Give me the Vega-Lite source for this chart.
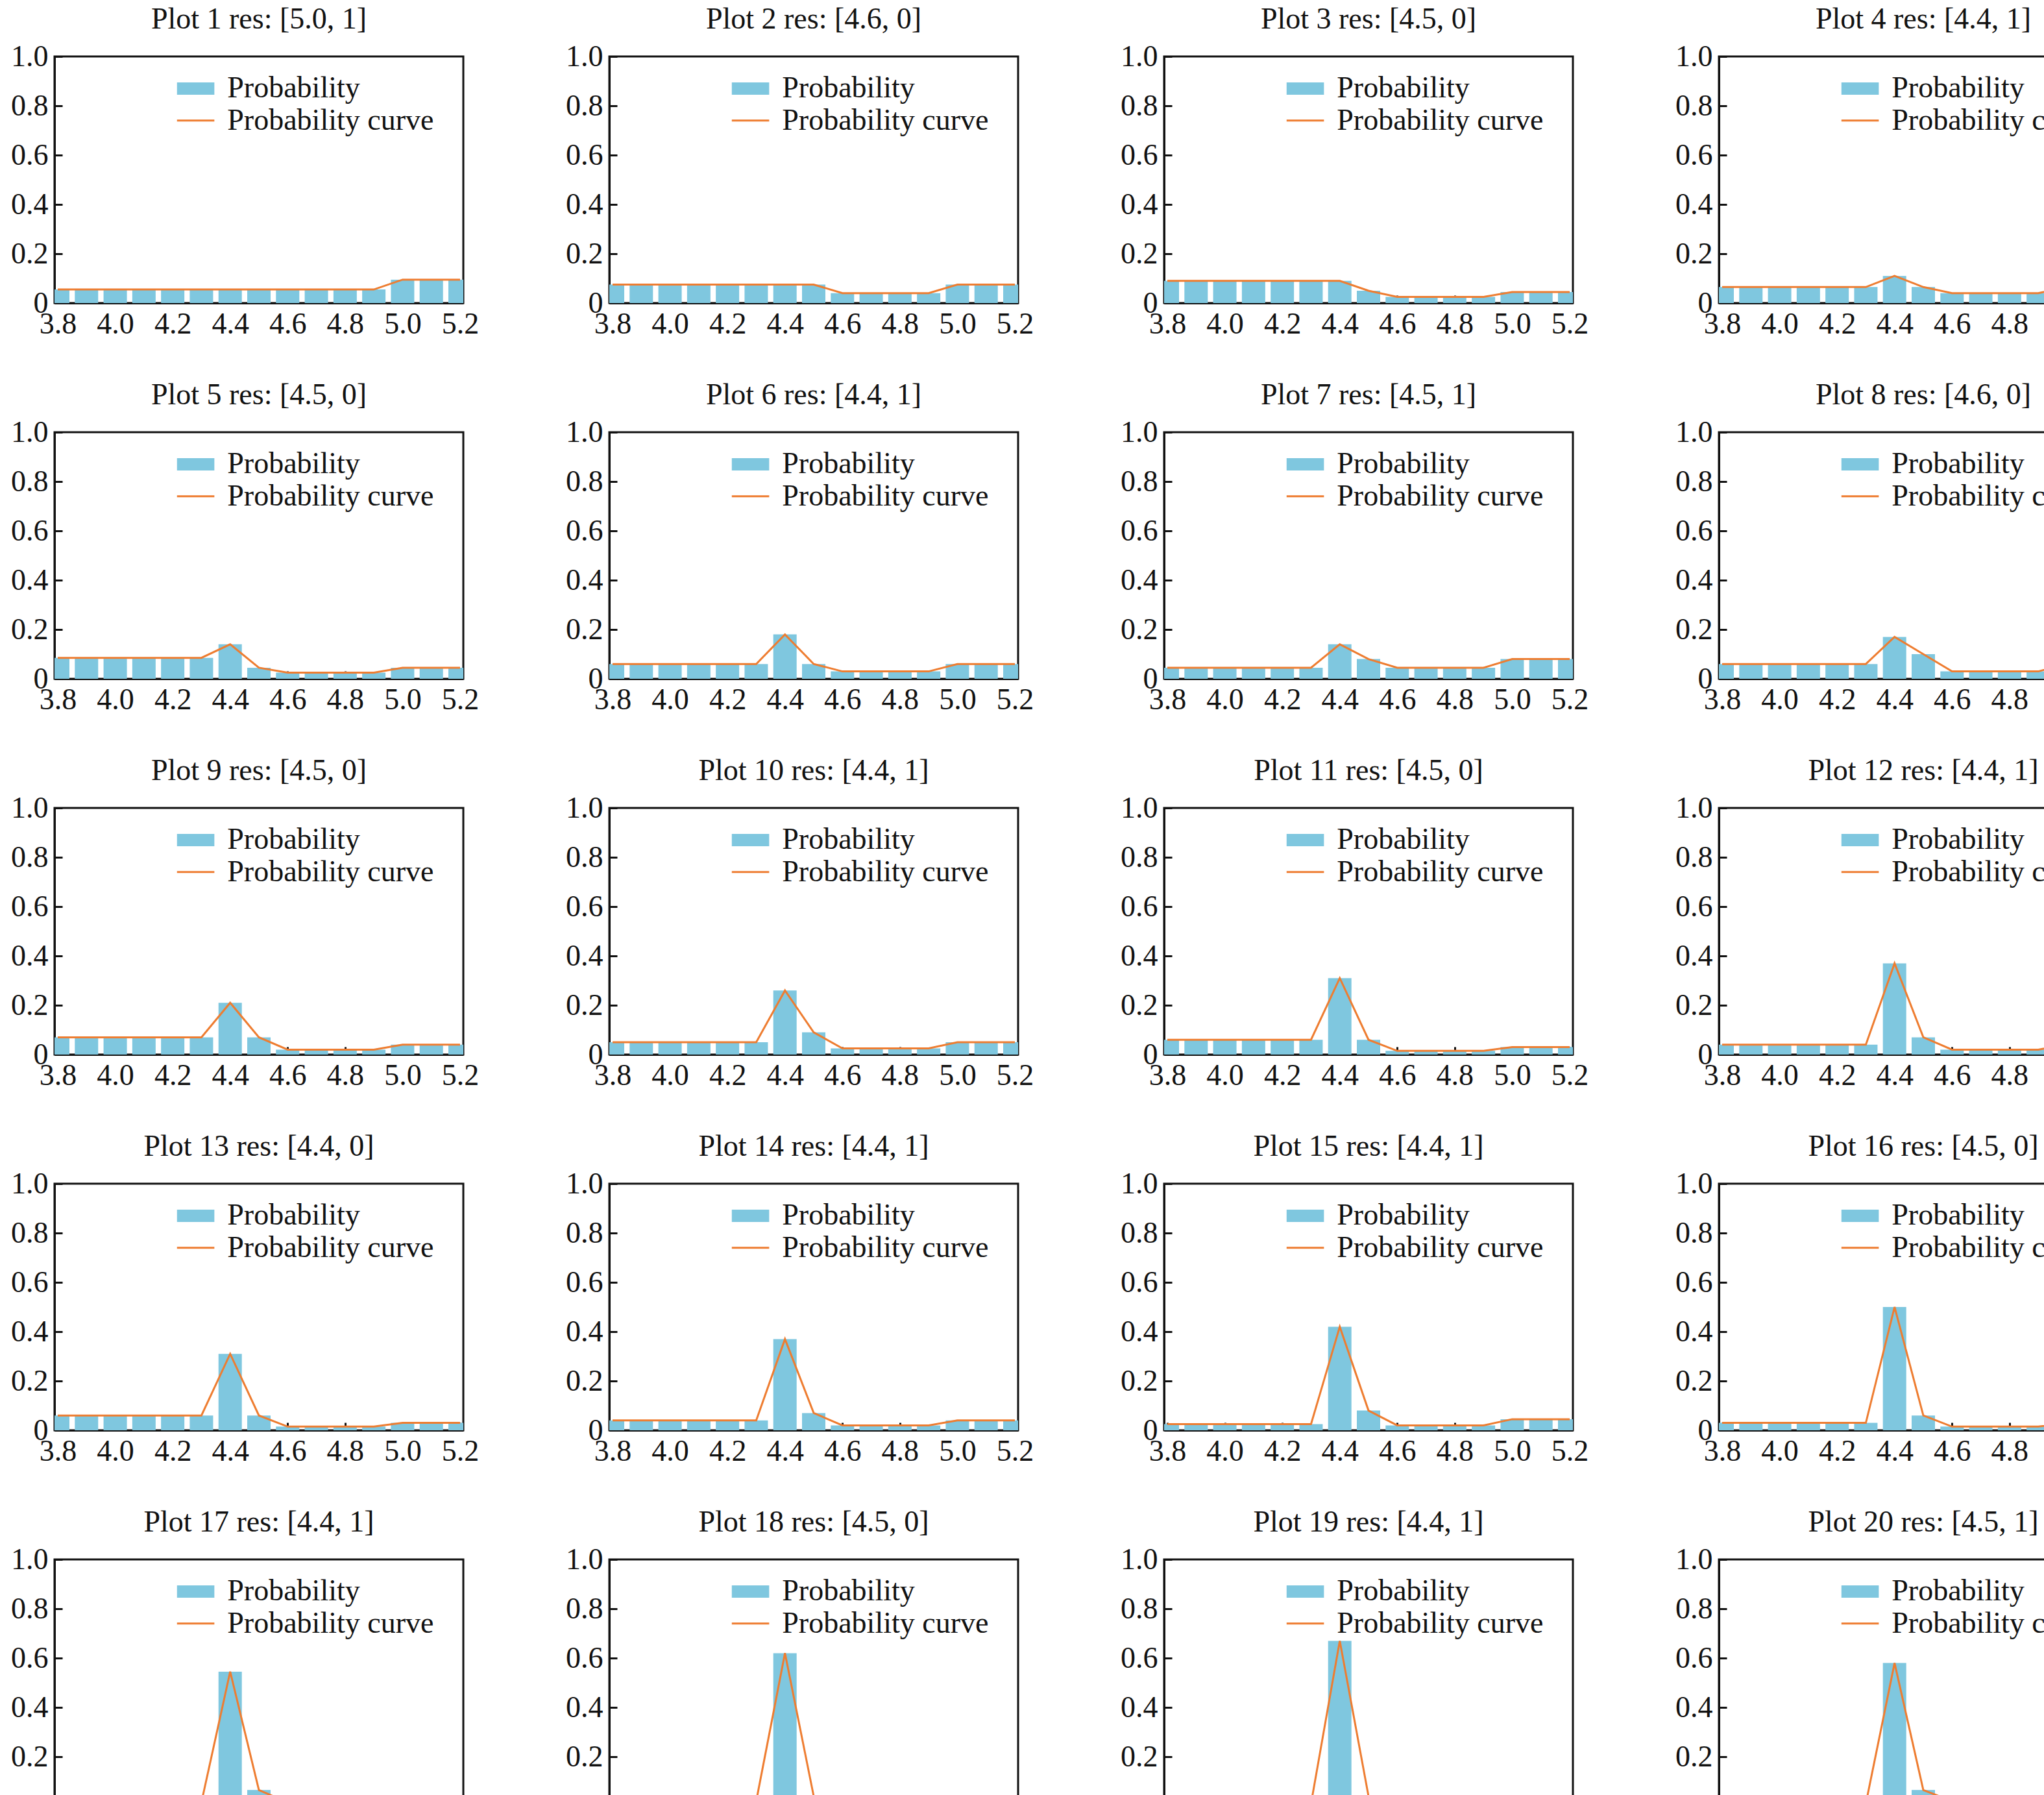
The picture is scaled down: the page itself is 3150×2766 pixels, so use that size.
{
"$schema":"https://vega.github.io/schema/vega-lite/v6.json",
"background":"white",
"padding":{"left":15,"top":5,"right":20,"bottom":5},
"datasets":{
"titles":[{"i":1,"t":"Plot 1 res: [5.0, 1]"},{"i":2,"t":"Plot 2 res: [4.6, 0]"},{"i":3,"t":"Plot 3 res: [4.5, 0]"},{"i":4,"t":"Plot 4 res: [4.4, 1]"},{"i":5,"t":"Plot 5 res: [4.5, 0]"},{"i":6,"t":"Plot 6 res: [4.4, 1]"},{"i":7,"t":"Plot 7 res: [4.5, 1]"},{"i":8,"t":"Plot 8 res: [4.6, 0]"},{"i":9,"t":"Plot 9 res: [4.5, 0]"},{"i":10,"t":"Plot 10 res: [4.4, 1]"},{"i":11,"t":"Plot 11 res: [4.5, 0]"},{"i":12,"t":"Plot 12 res: [4.4, 1]"},{"i":13,"t":"Plot 13 res: [4.4, 0]"},{"i":14,"t":"Plot 14 res: [4.4, 1]"},{"i":15,"t":"Plot 15 res: [4.4, 1]"},{"i":16,"t":"Plot 16 res: [4.5, 0]"},{"i":17,"t":"Plot 17 res: [4.4, 1]"},{"i":18,"t":"Plot 18 res: [4.5, 0]"},{"i":19,"t":"Plot 19 res: [4.4, 1]"},{"i":20,"t":"Plot 20 res: [4.5, 1]"}],
"rows":[
{"i":1,"x":3.8,"y":0.055},{"i":1,"x":3.9,"y":0.055},{"i":1,"x":4.0,"y":0.055},{"i":1,"x":4.1,"y":0.055},{"i":1,"x":4.2,"y":0.055},{"i":1,"x":4.3,"y":0.055},{"i":1,"x":4.4,"y":0.055},{"i":1,"x":4.5,"y":0.055},{"i":1,"x":4.6,"y":0.055},{"i":1,"x":4.7,"y":0.055},{"i":1,"x":4.8,"y":0.055},{"i":1,"x":4.9,"y":0.055},{"i":1,"x":5.0,"y":0.095},{"i":1,"x":5.1,"y":0.095},{"i":1,"x":5.2,"y":0.095},
{"i":2,"x":3.8,"y":0.075},{"i":2,"x":3.9,"y":0.075},{"i":2,"x":4.0,"y":0.075},{"i":2,"x":4.1,"y":0.075},{"i":2,"x":4.2,"y":0.075},{"i":2,"x":4.3,"y":0.075},{"i":2,"x":4.4,"y":0.075},{"i":2,"x":4.5,"y":0.075},{"i":2,"x":4.6,"y":0.04},{"i":2,"x":4.7,"y":0.04},{"i":2,"x":4.8,"y":0.04},{"i":2,"x":4.9,"y":0.04},{"i":2,"x":5.0,"y":0.075},{"i":2,"x":5.1,"y":0.075},{"i":2,"x":5.2,"y":0.075},
{"i":3,"x":3.8,"y":0.09},{"i":3,"x":3.9,"y":0.09},{"i":3,"x":4.0,"y":0.09},{"i":3,"x":4.1,"y":0.09},{"i":3,"x":4.2,"y":0.09},{"i":3,"x":4.3,"y":0.09},{"i":3,"x":4.4,"y":0.09},{"i":3,"x":4.5,"y":0.05},{"i":3,"x":4.6,"y":0.025},{"i":3,"x":4.7,"y":0.025},{"i":3,"x":4.8,"y":0.025},{"i":3,"x":4.9,"y":0.025},{"i":3,"x":5.0,"y":0.045},{"i":3,"x":5.1,"y":0.045},{"i":3,"x":5.2,"y":0.045},
{"i":4,"x":3.8,"y":0.065},{"i":4,"x":3.9,"y":0.065},{"i":4,"x":4.0,"y":0.065},{"i":4,"x":4.1,"y":0.065},{"i":4,"x":4.2,"y":0.065},{"i":4,"x":4.3,"y":0.065},{"i":4,"x":4.4,"y":0.11},{"i":4,"x":4.5,"y":0.065},{"i":4,"x":4.6,"y":0.04},{"i":4,"x":4.7,"y":0.04},{"i":4,"x":4.8,"y":0.04},{"i":4,"x":4.9,"y":0.04},{"i":4,"x":5.0,"y":0.065},{"i":4,"x":5.1,"y":0.065},{"i":4,"x":5.2,"y":0.065},
{"i":5,"x":3.8,"y":0.085},{"i":5,"x":3.9,"y":0.085},{"i":5,"x":4.0,"y":0.085},{"i":5,"x":4.1,"y":0.085},{"i":5,"x":4.2,"y":0.085},{"i":5,"x":4.3,"y":0.085},{"i":5,"x":4.4,"y":0.14},{"i":5,"x":4.5,"y":0.045},{"i":5,"x":4.6,"y":0.025},{"i":5,"x":4.7,"y":0.025},{"i":5,"x":4.8,"y":0.025},{"i":5,"x":4.9,"y":0.025},{"i":5,"x":5.0,"y":0.045},{"i":5,"x":5.1,"y":0.045},{"i":5,"x":5.2,"y":0.045},
{"i":6,"x":3.8,"y":0.06},{"i":6,"x":3.9,"y":0.06},{"i":6,"x":4.0,"y":0.06},{"i":6,"x":4.1,"y":0.06},{"i":6,"x":4.2,"y":0.06},{"i":6,"x":4.3,"y":0.06},{"i":6,"x":4.4,"y":0.18},{"i":6,"x":4.5,"y":0.06},{"i":6,"x":4.6,"y":0.03},{"i":6,"x":4.7,"y":0.03},{"i":6,"x":4.8,"y":0.03},{"i":6,"x":4.9,"y":0.03},{"i":6,"x":5.0,"y":0.06},{"i":6,"x":5.1,"y":0.06},{"i":6,"x":5.2,"y":0.06},
{"i":7,"x":3.8,"y":0.045},{"i":7,"x":3.9,"y":0.045},{"i":7,"x":4.0,"y":0.045},{"i":7,"x":4.1,"y":0.045},{"i":7,"x":4.2,"y":0.045},{"i":7,"x":4.3,"y":0.045},{"i":7,"x":4.4,"y":0.14},{"i":7,"x":4.5,"y":0.08},{"i":7,"x":4.6,"y":0.045},{"i":7,"x":4.7,"y":0.045},{"i":7,"x":4.8,"y":0.045},{"i":7,"x":4.9,"y":0.045},{"i":7,"x":5.0,"y":0.08},{"i":7,"x":5.1,"y":0.08},{"i":7,"x":5.2,"y":0.08},
{"i":8,"x":3.8,"y":0.06},{"i":8,"x":3.9,"y":0.06},{"i":8,"x":4.0,"y":0.06},{"i":8,"x":4.1,"y":0.06},{"i":8,"x":4.2,"y":0.06},{"i":8,"x":4.3,"y":0.06},{"i":8,"x":4.4,"y":0.17},{"i":8,"x":4.5,"y":0.10},{"i":8,"x":4.6,"y":0.03},{"i":8,"x":4.7,"y":0.03},{"i":8,"x":4.8,"y":0.03},{"i":8,"x":4.9,"y":0.03},{"i":8,"x":5.0,"y":0.06},{"i":8,"x":5.1,"y":0.06},{"i":8,"x":5.2,"y":0.06},
{"i":9,"x":3.8,"y":0.07},{"i":9,"x":3.9,"y":0.07},{"i":9,"x":4.0,"y":0.07},{"i":9,"x":4.1,"y":0.07},{"i":9,"x":4.2,"y":0.07},{"i":9,"x":4.3,"y":0.07},{"i":9,"x":4.4,"y":0.21},{"i":9,"x":4.5,"y":0.07},{"i":9,"x":4.6,"y":0.02},{"i":9,"x":4.7,"y":0.02},{"i":9,"x":4.8,"y":0.02},{"i":9,"x":4.9,"y":0.02},{"i":9,"x":5.0,"y":0.04},{"i":9,"x":5.1,"y":0.04},{"i":9,"x":5.2,"y":0.04},
{"i":10,"x":3.8,"y":0.05},{"i":10,"x":3.9,"y":0.05},{"i":10,"x":4.0,"y":0.05},{"i":10,"x":4.1,"y":0.05},{"i":10,"x":4.2,"y":0.05},{"i":10,"x":4.3,"y":0.05},{"i":10,"x":4.4,"y":0.26},{"i":10,"x":4.5,"y":0.09},{"i":10,"x":4.6,"y":0.025},{"i":10,"x":4.7,"y":0.025},{"i":10,"x":4.8,"y":0.025},{"i":10,"x":4.9,"y":0.025},{"i":10,"x":5.0,"y":0.05},{"i":10,"x":5.1,"y":0.05},{"i":10,"x":5.2,"y":0.05},
{"i":11,"x":3.8,"y":0.06},{"i":11,"x":3.9,"y":0.06},{"i":11,"x":4.0,"y":0.06},{"i":11,"x":4.1,"y":0.06},{"i":11,"x":4.2,"y":0.06},{"i":11,"x":4.3,"y":0.06},{"i":11,"x":4.4,"y":0.31},{"i":11,"x":4.5,"y":0.06},{"i":11,"x":4.6,"y":0.015},{"i":11,"x":4.7,"y":0.015},{"i":11,"x":4.8,"y":0.015},{"i":11,"x":4.9,"y":0.015},{"i":11,"x":5.0,"y":0.03},{"i":11,"x":5.1,"y":0.03},{"i":11,"x":5.2,"y":0.03},
{"i":12,"x":3.8,"y":0.04},{"i":12,"x":3.9,"y":0.04},{"i":12,"x":4.0,"y":0.04},{"i":12,"x":4.1,"y":0.04},{"i":12,"x":4.2,"y":0.04},{"i":12,"x":4.3,"y":0.04},{"i":12,"x":4.4,"y":0.37},{"i":12,"x":4.5,"y":0.07},{"i":12,"x":4.6,"y":0.02},{"i":12,"x":4.7,"y":0.02},{"i":12,"x":4.8,"y":0.02},{"i":12,"x":4.9,"y":0.02},{"i":12,"x":5.0,"y":0.04},{"i":12,"x":5.1,"y":0.04},{"i":12,"x":5.2,"y":0.04},
{"i":13,"x":3.8,"y":0.06},{"i":13,"x":3.9,"y":0.06},{"i":13,"x":4.0,"y":0.06},{"i":13,"x":4.1,"y":0.06},{"i":13,"x":4.2,"y":0.06},{"i":13,"x":4.3,"y":0.06},{"i":13,"x":4.4,"y":0.31},{"i":13,"x":4.5,"y":0.06},{"i":13,"x":4.6,"y":0.015},{"i":13,"x":4.7,"y":0.015},{"i":13,"x":4.8,"y":0.015},{"i":13,"x":4.9,"y":0.015},{"i":13,"x":5.0,"y":0.03},{"i":13,"x":5.1,"y":0.03},{"i":13,"x":5.2,"y":0.03},
{"i":14,"x":3.8,"y":0.04},{"i":14,"x":3.9,"y":0.04},{"i":14,"x":4.0,"y":0.04},{"i":14,"x":4.1,"y":0.04},{"i":14,"x":4.2,"y":0.04},{"i":14,"x":4.3,"y":0.04},{"i":14,"x":4.4,"y":0.37},{"i":14,"x":4.5,"y":0.07},{"i":14,"x":4.6,"y":0.02},{"i":14,"x":4.7,"y":0.02},{"i":14,"x":4.8,"y":0.02},{"i":14,"x":4.9,"y":0.02},{"i":14,"x":5.0,"y":0.04},{"i":14,"x":5.1,"y":0.04},{"i":14,"x":5.2,"y":0.04},
{"i":15,"x":3.8,"y":0.025},{"i":15,"x":3.9,"y":0.025},{"i":15,"x":4.0,"y":0.025},{"i":15,"x":4.1,"y":0.025},{"i":15,"x":4.2,"y":0.025},{"i":15,"x":4.3,"y":0.025},{"i":15,"x":4.4,"y":0.42},{"i":15,"x":4.5,"y":0.08},{"i":15,"x":4.6,"y":0.02},{"i":15,"x":4.7,"y":0.02},{"i":15,"x":4.8,"y":0.02},{"i":15,"x":4.9,"y":0.02},{"i":15,"x":5.0,"y":0.045},{"i":15,"x":5.1,"y":0.045},{"i":15,"x":5.2,"y":0.045},
{"i":16,"x":3.8,"y":0.03},{"i":16,"x":3.9,"y":0.03},{"i":16,"x":4.0,"y":0.03},{"i":16,"x":4.1,"y":0.03},{"i":16,"x":4.2,"y":0.03},{"i":16,"x":4.3,"y":0.03},{"i":16,"x":4.4,"y":0.50},{"i":16,"x":4.5,"y":0.06},{"i":16,"x":4.6,"y":0.015},{"i":16,"x":4.7,"y":0.015},{"i":16,"x":4.8,"y":0.015},{"i":16,"x":4.9,"y":0.015},{"i":16,"x":5.0,"y":0.03},{"i":16,"x":5.1,"y":0.03},{"i":16,"x":5.2,"y":0.03},
{"i":17,"x":3.8,"y":0.015},{"i":17,"x":3.9,"y":0.015},{"i":17,"x":4.0,"y":0.015},{"i":17,"x":4.1,"y":0.015},{"i":17,"x":4.2,"y":0.015},{"i":17,"x":4.3,"y":0.015},{"i":17,"x":4.4,"y":0.545},{"i":17,"x":4.5,"y":0.065},{"i":17,"x":4.6,"y":0.015},{"i":17,"x":4.7,"y":0.015},{"i":17,"x":4.8,"y":0.015},{"i":17,"x":4.9,"y":0.015},{"i":17,"x":5.0,"y":0.035},{"i":17,"x":5.1,"y":0.035},{"i":17,"x":5.2,"y":0.035},
{"i":18,"x":3.8,"y":0.02},{"i":18,"x":3.9,"y":0.02},{"i":18,"x":4.0,"y":0.02},{"i":18,"x":4.1,"y":0.02},{"i":18,"x":4.2,"y":0.02},{"i":18,"x":4.3,"y":0.02},{"i":18,"x":4.4,"y":0.62},{"i":18,"x":4.5,"y":0.04},{"i":18,"x":4.6,"y":0.01},{"i":18,"x":4.7,"y":0.01},{"i":18,"x":4.8,"y":0.01},{"i":18,"x":4.9,"y":0.01},{"i":18,"x":5.0,"y":0.02},{"i":18,"x":5.1,"y":0.02},{"i":18,"x":5.2,"y":0.02},
{"i":19,"x":3.8,"y":0.01},{"i":19,"x":3.9,"y":0.01},{"i":19,"x":4.0,"y":0.01},{"i":19,"x":4.1,"y":0.01},{"i":19,"x":4.2,"y":0.01},{"i":19,"x":4.3,"y":0.01},{"i":19,"x":4.4,"y":0.67},{"i":19,"x":4.5,"y":0.04},{"i":19,"x":4.6,"y":0.01},{"i":19,"x":4.7,"y":0.01},{"i":19,"x":4.8,"y":0.01},{"i":19,"x":4.9,"y":0.01},{"i":19,"x":5.0,"y":0.02},{"i":19,"x":5.1,"y":0.02},{"i":19,"x":5.2,"y":0.02},
{"i":20,"x":3.8,"y":0.01},{"i":20,"x":3.9,"y":0.01},{"i":20,"x":4.0,"y":0.01},{"i":20,"x":4.1,"y":0.01},{"i":20,"x":4.2,"y":0.01},{"i":20,"x":4.3,"y":0.01},{"i":20,"x":4.4,"y":0.58},{"i":20,"x":4.5,"y":0.065},{"i":20,"x":4.6,"y":0.02},{"i":20,"x":4.7,"y":0.02},{"i":20,"x":4.8,"y":0.02},{"i":20,"x":4.9,"y":0.02},{"i":20,"x":5.0,"y":0.035},{"i":20,"x":5.1,"y":0.035},{"i":20,"x":5.2,"y":0.035}
]},
"data":{"name":"rows"},
"transform":[{"lookup":"i","from":{"data":{"name":"titles"},"key":"i","fields":["t"]}}],
"facet":{"field":"t","type":"nominal","sort":{"field":"i","op":"min"},"header":{"title":null,"labelFontSize":46,"labelFont":"Liberation Serif","labelPadding":10,"labelColor":"#111"}},
"columns":4,
"spacing":{"column":130,"row":60},
"resolve":{"axis":{"x":"independent","y":"independent"}},
"spec":{
"width":630,"height":380,
"encoding":{
"x":{"field":"x","type":"quantitative","scale":{"domain":[3.8,5.2],"nice":false,"zero":false},"axis":{"title":null,"values":[3.8,4.0,4.2,4.4,4.6,4.8,5.0,5.2],"format":".1f"}},
"y":{"field":"y","type":"quantitative","scale":{"domain":[0,1]},"axis":{"title":null,"values":[0,0.2,0.4,0.6,0.8,1.0],"labelExpr":"datum.value==0?'0':format(datum.value,'.1f')"}}
},
"layer":[
{"mark":{"type":"bar","color":"#7fc7df","size":36,"clip":true}},
{"mark":{"type":"line","color":"#ee7d31","strokeWidth":3,"clip":true}},
{"transform":[{"filter":"datum.x == 3.8"}],"mark":{"type":"rect","color":"#7fc7df"},"encoding":{"x":{"datum":4.215},"x2":{"datum":4.345},"y":{"datum":0.845},"y2":{"datum":0.895}}},
{"transform":[{"filter":"datum.x == 3.8"}],"mark":{"type":"rule","color":"#ee7d31","strokeWidth":3},"encoding":{"x":{"datum":4.215},"x2":{"datum":4.345},"y":{"datum":0.74}}},
{"transform":[{"filter":"datum.x == 3.8"}],"mark":{"type":"text","align":"left","baseline":"middle","fontSize":46,"font":"Liberation Serif","color":"#111"},"encoding":{"x":{"datum":4.39},"y":{"datum":0.87},"text":{"value":"Probability"}}},
{"transform":[{"filter":"datum.x == 3.8"}],"mark":{"type":"text","align":"left","baseline":"middle","fontSize":46,"font":"Liberation Serif","color":"#111"},"encoding":{"x":{"datum":4.39},"y":{"datum":0.74},"text":{"value":"Probability curve"}}}
]
},
"config":{
"view":{"stroke":"#111","strokeWidth":3},
"axis":{"grid":false,"domainColor":"#111","domainWidth":3,"tickColor":"#111","tickWidth":3,"tickSize":-12,"labelFont":"Liberation Serif","labelFontSize":46,"labelColor":"#111","labelPadding":22,"labelFlush":false}
}
}
